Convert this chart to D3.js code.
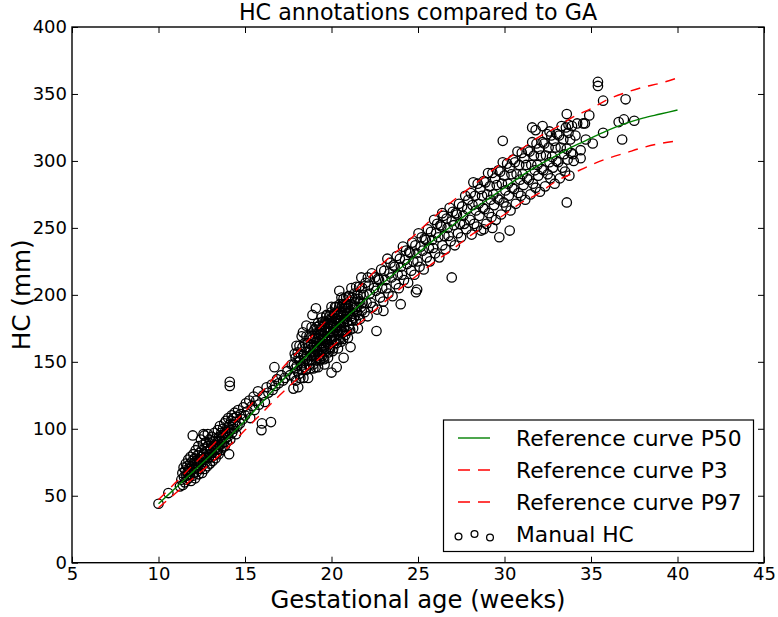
<!DOCTYPE html>
<html><head><meta charset="utf-8">
<script src="https://cdn.jsdelivr.net/npm/d3@7"></script>
<style>
html,body{margin:0;padding:0;background:#fff;}
text{font-family:"DejaVu Sans",sans-serif;}
</style></head>
<body><svg id="c" width="778" height="617"></svg>
<script>
// ---- data ----
const titleText = "HC annotations compared to GA";
const xLabel = "Gestational age (weeks)";
const yLabel = "HC (mm)";
const xTicks = [5,10,15,20,25,30,35,40,45];
const yTicks = [0,50,100,150,200,250,300,350,400];
const legendLabels = ["Reference curve P50","Reference curve P3","Reference curve P97","Manual HC"];

const curveWeeks = [10,11,12,13,14,15,16,17,18,19,20,21,22,23,24,25,26,27,28,29,30,31,32,33,34,35,36,37,38,39,40];
const p50 = [44,56,68,80,93,106,120,134,147,160,173,185,197,209,220,231,242,252,262,271,280,289,297,304,311,317,323,328,332,335,338];
const p3  = [41,52,63,74,86,99,112,125,137,149,161,172,183,194,205,215,225,234,244,252,260,269,276,285,291,297,302,306,310,313,315];
const p97 = [47,60,73,86,100,113,128,143,157,171,185,198,211,224,235,247,259,270,280,290,300,309,318,325,333,339,346,351,355,358,362];

// manual HC annotations, [GA (weeks), HC (mm)]
const hcFirstTrimester = [
 [10.0,44],[10.57,52],[11.24,57],
 [11.32,62],[11.38,67],[11.41,58],[11.45,71],[11.47,64],[11.52,60],[11.55,69],[11.58,74],[11.61,65],[11.63,62],
 [11.66,72],[11.69,68],[11.72,77],[11.74,63],[11.77,70],[11.8,66],[11.83,74],[11.85,79],[11.88,61],[11.9,69],
 [11.93,72],[11.96,76],[11.98,65],[11.98,95],[12.01,81],[12.03,70],[12.05,67],[12.08,74],[12.1,78],[12.12,63],[12.15,84],
 [12.17,71],[12.2,76],[12.22,68],[12.25,80],[12.27,73],[12.3,87],[12.32,66],[12.35,77],[12.37,82],[12.4,70],
 [12.42,75],[12.45,92],[12.47,79],[12.5,84],[12.52,67],[12.55,73],[12.57,88],[12.6,77],[12.6,96],[12.62,81],[12.65,95],
 [12.67,70],[12.7,85],[12.72,75],[12.75,90],[12.77,79],[12.8,83],[12.82,72],[12.85,96],[12.87,87],[12.9,78],
 [12.92,81],[12.95,92],[12.97,74],[13.0,85],[13.03,89],[13.05,79],[13.08,94],[13.1,82],[13.13,76],[13.15,87],
 [13.18,91],[13.2,80],[13.23,97],[13.25,84],[13.28,88],[13.3,78],[13.33,93],[13.35,86],[13.38,82],[13.4,90],
 [13.43,99],[13.45,85],[13.48,81],[13.5,94],[13.53,88],[13.55,102],[13.58,91],[13.6,84],[13.63,97],[13.65,89],
 [13.68,93],[13.7,86],[13.73,100],[13.75,95],[13.78,90],[13.8,104],[13.83,87],[13.85,98],[13.88,93],[13.9,106],
 [13.93,96],[13.95,90],[13.98,101],[14.0,94],[14.03,108],[14.05,98],[14.08,81],[14.1,103],[14.12,135],[14.12,132],
 [14.15,92],[14.18,99],[14.2,106],[14.23,110],[14.26,97],[14.3,103],[14.33,108],[14.37,100],[14.4,112],[14.44,105],
 [14.48,96],[14.52,109],[14.56,102],[14.6,114]
];
const hcEarlySecond = [
 [14.7,104],[14.75,111],[14.85,107],[14.9,116],[15.0,110],[15.05,119],[15.15,113],[15.25,121],[15.3,108],[15.4,117],
 [15.5,124],[15.55,114],[15.65,121],[15.75,128],[15.8,118],[15.95,99],[15.98,104],[16.05,125],[16.15,120],[16.25,131],
 [16.35,127],[16.5,105],[16.55,133],[16.6,129],[16.7,146],[16.75,132],[16.85,137],[16.95,134],[17.1,140],[17.2,136],
 [17.3,138],[17.45,143],[17.6,140],[17.7,148]
];
const hcMidSecond = [
 [17.8,130],[17.825,148],[17.85,139],[17.875,156],[17.9,145],[17.925,153],[17.95,136],[17.975,162],[18.0,147],[18.025,143],
 [18.05,157],[18.075,131],[18.1,153],[18.125,141],[18.15,162],[18.175,151],[18.2,138],[18.225,156],[18.25,147],[18.275,169],
 [18.3,144],[18.325,161],[18.35,149],[18.35,172],[18.375,138],[18.4,155],[18.425,146],[18.45,164],[18.475,152],[18.5,160],
 [18.525,144],[18.55,169],[18.55,177],[18.575,154],[18.6,151],[18.625,164],[18.65,138],[18.675,161],[18.7,148],[18.725,169],
 [18.75,159],[18.775,145],[18.8,163],[18.825,155],[18.85,176],[18.875,151],[18.9,169],[18.9,185],[18.925,157],[18.95,145],
 [18.975,162],[19.0,154],[19.025,171],[19.05,159],[19.075,168],[19.1,151],[19.1,190],[19.125,176],[19.15,162],[19.175,158],
 [19.2,171],[19.225,146],[19.25,168],[19.275,155],[19.3,177],[19.325,166],[19.35,152],[19.375,171],[19.4,162],[19.425,183],
 [19.45,159],[19.475,176],[19.5,164],[19.525,153],[19.55,170],[19.575,161],[19.6,148],[19.6,178],[19.625,167],[19.65,175],
 [19.675,158],[19.7,184],[19.725,169],[19.75,165],[19.775,179],[19.8,153],[19.825,175],[19.85,163],[19.875,184],[19.9,173],
 [19.925,160],[19.95,178],[19.975,169],[20.0,142],[20.0,191],[20.025,166],[20.05,183],[20.075,172],[20.1,160],[20.125,177],
 [20.15,169],[20.175,186],[20.2,174],[20.225,182],[20.25,166],[20.275,191],[20.3,146],[20.3,176],[20.325,173],[20.35,186],
 [20.375,160],[20.4,183],[20.425,170],[20.45,191],[20.45,203],[20.475,181],[20.5,167],[20.525,185],[20.55,177],[20.575,198],
 [20.6,173],[20.625,191],[20.65,179],[20.675,167],[20.7,153],[20.7,185],[20.725,176],[20.75,193],[20.775,182],[20.8,190],
 [20.825,173],[20.85,198],[20.875,184],[20.9,180],[20.925,193],[20.95,168],[20.975,190],[21.0,177],[21.025,199],[21.05,188],
 [21.075,174],[21.1,161],[21.1,193],[21.125,184],[21.15,205],[21.175,181],[21.2,198],[21.225,186],[21.25,175],[21.275,192],
 [21.3,183],[21.325,201],[21.35,189],[21.375,197],[21.4,181],[21.425,206],[21.45,191],[21.475,187],[21.5,201],[21.525,175],
 [21.55,197],[21.575,185],[21.6,206],[21.625,195],[21.65,182],[21.675,200],[21.7,191],[21.725,213],[21.75,188],[21.775,205],
 [21.8,194],
 [18.91,167],[18.945,148],[18.98,161],[19.015,174],[19.05,155],[19.085,146],[19.12,165],[19.155,174],[19.19,153],[19.225,179],
 [19.26,161],[19.295,170],[19.33,151],[19.365,174],[19.4,173],[19.435,154],[19.47,167],[19.505,180],[19.54,162],[19.575,152],
 [19.61,172],[19.645,180],[19.68,160],[19.715,185],[19.75,167],[19.785,176],[19.82,157],[19.855,181],[19.89,179],[19.925,161],
 [19.96,173],[19.995,187],[20.03,168],[20.065,158],[20.1,178],[20.135,186],[20.17,166],[20.205,191],[20.24,174],[20.275,182],
 [20.31,164],[20.345,187],[20.38,185],[20.415,167],[20.45,179],[20.485,193],[20.52,174],[20.555,165],[20.59,184],[20.625,193],
 [20.66,172],[20.695,197],[20.73,180],[20.765,188],[20.8,170],[20.835,193],[20.87,192],[20.905,173],[20.94,186],[20.975,199]
];
const hcLateSecond = [
 [21.85,200],[21.91,187],[21.97,209],[22.03,194],[22.09,184],[22.1,213],[22.15,207],[22.21,201],[22.27,194],[22.33,216],
 [22.39,191],[22.45,205],[22.51,213],[22.57,203],[22.6,173],[22.63,189],[22.69,212],[22.75,211],[22.81,198],[22.87,219],
 [22.93,205],[22.99,195],[23.0,188],[23.05,218],[23.11,211],[23.17,205],[23.23,227],[23.29,201],[23.35,216],[23.41,224],
 [23.47,213],[23.53,199],[23.59,222],[23.65,221],[23.71,208],[23.77,229],[23.83,215],[23.89,205],[23.95,227],[24.0,193],
 [24.01,221],[24.07,215],[24.13,236],[24.19,211],[24.25,226],[24.31,233],[24.37,223],[24.43,209],[24.49,232],[24.55,231],
 [24.61,218],[24.67,239],[24.73,225],[24.79,215],[24.85,237],[24.88,202],[24.91,231],[24.95,204],[24.97,225],[25.03,246],
 [25.09,221],[25.15,236],[25.21,243],[25.27,233],[25.33,219],[25.39,242],[25.45,241],[25.51,228],[25.57,249],[25.63,235],
 [25.69,225],[25.75,247],[25.81,241],[25.87,235],[25.93,256],[25.99,231],[26.05,246],[26.11,253],[26.17,243],[26.23,228],
 [26.29,252],[26.35,251],[26.4,261],[26.41,237],[26.47,259],[26.53,244],[26.59,234],[26.65,257],[26.71,250],[26.77,244],
 [26.83,265],[26.89,240],[26.95,213],[26.95,255],[27.01,262],[27.07,252],[27.13,237],[27.19,261],[27.25,260],[27.31,246],
 [27.37,268],[27.43,253],[27.49,243],[27.55,266],[27.61,259],[27.67,253],[27.73,274],[27.79,249],[27.85,264],[27.91,271]
];
const hcThirdTrimester = [
 [28.0,256],[28.05,276],[28.1,245],[28.15,267],[28.2,284],[28.25,253],[28.3,274],[28.35,263],[28.4,251],[28.45,283],
 [28.5,268],[28.55,259],[28.6,279],[28.65,248],[28.7,274],[28.75,265],[28.8,285],[28.8,249],[28.85,264],[28.9,284],
 [28.95,253],[29.0,275],[29.05,291],[29.1,261],[29.15,281],[29.2,271],[29.25,258],[29.3,291],[29.3,250],[29.35,275],
 [29.4,267],[29.45,287],[29.5,256],[29.55,282],[29.6,272],[29.65,293],[29.7,271],[29.7,243],[29.75,292],[29.8,260],
 [29.85,283],[29.9,299],[29.9,315],[29.95,269],[30.0,289],[30.05,278],[30.1,266],[30.15,298],[30.2,283],[30.25,274],
 [30.3,295],[30.3,248],[30.35,263],[30.4,290],[30.45,280],[30.5,301],[30.55,279],[30.6,299],[30.65,268],[30.7,290],
 [30.75,307],[30.8,276],[30.85,297],[30.9,286],[30.95,274],[31.0,306],[31.05,290],[31.1,282],[31.15,302],[31.2,271],
 [31.25,297],[31.3,287],[31.35,308],[31.4,286],[31.45,307],[31.5,275],[31.55,297],[31.6,314],[31.6,325],[31.65,283],
 [31.7,304],[31.75,293],[31.8,280],[31.8,323],[31.85,313],[31.9,297],[31.95,289],[32.0,309],[32.05,277],[32.1,304],
 [32.15,294],[32.2,314],[32.2,326],[32.25,293],[32.3,313],[32.35,281],[32.4,304],[32.45,320],[32.5,290],[32.55,310],
 [32.6,299],[32.6,322],[32.65,287],[32.7,319],[32.75,303],[32.8,295],[32.85,315],[32.9,283],[32.95,310],[33.0,300],
 [33.05,320],[33.1,299],[33.15,319],[33.2,287],[33.25,310],[33.3,326],[33.35,295],[33.4,316],[33.45,305],[33.5,292],
 [33.55,325],[33.6,309],[33.6,269],[33.6,335],[33.65,301],[33.7,321],[33.7,327],[33.75,289],[33.8,316],[33.85,306],
 [33.9,326],[33.95,305],[34.0,300],[34.1,319],[34.2,328],[34.4,302],[34.4,308],[34.55,328],[34.65,328],[34.7,316],
 [34.9,334],[35.1,313],[35.4,356],[35.4,359],[35.7,321],[35.7,345],[36.6,329],[36.8,316],[36.9,331],[37.0,346],[37.5,330]
];

// ---- chart ----
const svg = d3.select("#c");
const m = {left:72, right:764, top:27, bottom:562.7};
const x = d3.scaleLinear().domain([5,45]).range([m.left, m.right]);
const y = d3.scaleLinear().domain([0,400]).range([m.bottom, m.top]);

const points = [].concat(hcFirstTrimester, hcEarlySecond, hcMidSecond, hcLateSecond, hcThirdTrimester);

// scatter
svg.append("g").selectAll("circle").data(points).join("circle")
  .attr("cx", d => x(d[0])).attr("cy", d => y(d[1])).attr("r", 4.7)
  .attr("fill", "none").attr("stroke", "#000").attr("stroke-width", 1.3);

const line = d3.line().curve(d3.curveMonotoneX).x(d => x(d[0])).y(d => y(d[1]));
const mk = arr => curveWeeks.map((w,i) => [w, arr[i]]);
svg.append("path").attr("d", line(mk(p50))).attr("fill","none").attr("stroke","#008000").attr("stroke-width",1.4);
svg.append("path").attr("d", line(mk(p3))).attr("fill","none").attr("stroke","#ff0000").attr("stroke-width",1.4).attr("stroke-dasharray","10,8");
svg.append("path").attr("d", line(mk(p97))).attr("fill","none").attr("stroke","#ff0000").attr("stroke-width",1.4).attr("stroke-dasharray","10,8");

// axes (inward ticks on all four sides)
const tickLen = 6;
const gB = svg.append("g").attr("transform", `translate(0,${m.bottom})`)
  .call(d3.axisBottom(x).tickValues(xTicks).tickSize(-tickLen).tickFormat(d3.format("d")));
const gT = svg.append("g").attr("transform", `translate(0,${m.top})`)
  .call(d3.axisTop(x).tickValues(xTicks).tickSize(-tickLen).tickFormat(""));
const gL = svg.append("g").attr("transform", `translate(${m.left},0)`)
  .call(d3.axisLeft(y).tickValues(yTicks).tickSize(-tickLen).tickFormat(d3.format("d")));
const gR = svg.append("g").attr("transform", `translate(${m.right},0)`)
  .call(d3.axisRight(y).tickValues(yTicks).tickSize(-tickLen).tickFormat(""));
[gB,gT,gL,gR].forEach(g => {
  g.select(".domain").remove();
  g.selectAll(".tick line").attr("stroke","#000").attr("stroke-width",1);
  g.selectAll(".tick text").attr("font-size",18).attr("fill","#000").attr("font-family","DejaVu Sans");
});
gB.selectAll(".tick text").attr("y", 0.5).attr("dy","0.95em");
gL.selectAll(".tick text").attr("x", -5);
// frame
svg.append("rect").attr("x", m.left).attr("y", m.top).attr("width", m.right-m.left).attr("height", m.bottom-m.top)
  .attr("fill","none").attr("stroke","#000").attr("stroke-width",1.4);

// titles
svg.append("text").attr("x", (m.left+m.right)/2).attr("y", 20).attr("text-anchor","middle")
  .attr("font-size", 22.2).text(titleText);
svg.append("text").attr("x", (m.left+m.right)/2).attr("y", 608).attr("text-anchor","middle")
  .attr("font-size", 24.3).text(xLabel);
svg.append("text").attr("transform", `translate(30,${(m.top+m.bottom)/2}) rotate(-90)`).attr("text-anchor","middle")
  .attr("font-size", 24.7).text(yLabel);

// legend
const lg = svg.append("g");
lg.append("rect").attr("x",443.5).attr("y",420).attr("width",310).attr("height",131.5)
  .attr("fill","#fff").attr("stroke","#000").attr("stroke-width",1.2);
const rowBase = [446, 478, 510, 542];
lg.append("line").attr("x1",458).attr("x2",490).attr("y1",rowBase[0]-8).attr("y2",rowBase[0]-8).attr("stroke","#008000").attr("stroke-width",1.4);
[1,2].forEach(i => lg.append("line").attr("x1",458).attr("x2",490).attr("y1",rowBase[i]-8).attr("y2",rowBase[i]-8)
  .attr("stroke","#ff0000").attr("stroke-width",1.4).attr("stroke-dasharray","12,8"));
const legCircles = [[458.5,536.5],[474.5,534],[490,537.5]];
legCircles.forEach(c => lg.append("circle").attr("cx",c[0]).attr("cy",c[1]).attr("r",3.4)
  .attr("fill","none").attr("stroke","#000").attr("stroke-width",1.3));
legendLabels.forEach((t,i) => lg.append("text").attr("x",516).attr("y",rowBase[i])
  .attr("font-size",21.8).text(t));
</script></body></html>
